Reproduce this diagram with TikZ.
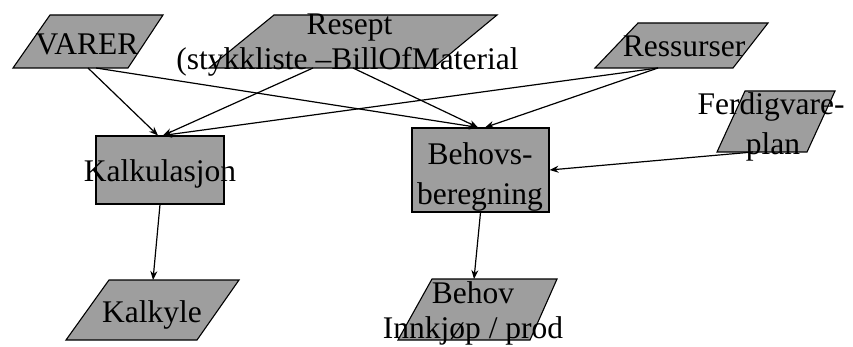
\documentclass[tikz,border=0pt]{standalone}
\usepackage{fontspec}
\setmainfont{Liberation Serif}
\usetikzlibrary{arrows.meta}
\definecolor{boxgray}{RGB}{158,158,158}
\begin{document}
\begin{tikzpicture}[x=1pt,y=-1pt,
  para/.style={fill=boxgray,draw=black,line width=1.1pt},
  box/.style={rectangle,fill=boxgray,draw=black,line width=1.1pt,inner sep=0pt},
  lbl/.style={anchor=base,inner sep=0pt,font=\fontsize{31.5}{36}\selectfont},
  conn/.style={line width=1.2pt,-{Stealth[length=9pt,width=7pt]}}]
\useasboundingbox (0,0) rectangle (853,347);
% data shapes (parallelograms)
\path[para] (50,15) -- (163,15) -- (128,68) -- (13,68) -- cycle;
\path[para] (274,15) -- (497,15) -- (433,68) -- (209,68) -- cycle;
\path[para] (638,23) -- (768,23) -- (733,68) -- (595,68) -- cycle;
\path[para] (745,91) -- (835,91) -- (807,152) -- (717,152) -- cycle;
\path[para] (109,280) -- (239,280) -- (197,340) -- (66,340) -- cycle;
\path[para] (432,279) -- (557,279) -- (530,340) -- (398,340) -- cycle;
% process boxes
\node[box,minimum width=128pt,minimum height=68pt] (kalk) at (160,170) {};
\node[box,minimum width=137pt,minimum height=84pt] (behovs) at (480.5,170) {};
% connector end points on the data shapes
\coordinate (varer-o1) at (88,68);
\coordinate (varer-o2) at (96,68);
\coordinate (resept-o1) at (313,68);
\coordinate (resept-o2) at (353,68);
\coordinate (ress-o) at (658,68);
\coordinate (ferdig-o) at (753,152);
\coordinate (kalkyle-i) at (153,280);
\coordinate (behov-i) at (474,279);
% connectors
\draw[conn] (varer-o1) -- ([xshift=-2pt]kalk.north);
\draw[conn] (varer-o2) -- ([xshift=-2.5pt]behovs.north);
\draw[conn] (resept-o1) -- ([xshift=3pt]kalk.north);
\draw[conn] (resept-o2) -- ([xshift=-2.5pt]behovs.north);
\draw[conn] (ress-o) -- ([xshift=3pt]kalk.north);
\draw[conn] (ress-o) -- ([xshift=4.5pt]behovs.north);
\draw[conn] (ferdig-o) -- (behovs.east);
\draw[conn] (kalk.south) -- (kalkyle-i);
\draw[conn] (behovs.south) -- (behov-i);
% labels
\node[lbl] (t-varer) at (87,55) {VARER};
\node[lbl] (t-resept1) at (349.5,35) {Resept};
\node[lbl] (t-resept2) at (347.5,70) {(stykkliste –BillOfMaterial};
\node[lbl] (t-ress) at (684,57) {Ressurser};
\node[lbl] (t-ferdig1) at (771,115) {Ferdigvare-};
\node[lbl] (t-ferdig2) at (773,155) {plan};
\node[lbl] (t-kalk) at (160,182) {Kalkulasjon};
\node[lbl] (t-behovs1) at (480,165) {Behovs-};
\node[lbl] (t-behovs2) at (480,205) {beregning};
\node[lbl] (t-kalkyle) at (152,322) {Kalkyle};
\node[lbl] (t-behov1) at (473,303) {Behov};
\node[lbl] (t-behov2) at (473,338) {Innkjøp / prod};
\end{tikzpicture}
\end{document}
